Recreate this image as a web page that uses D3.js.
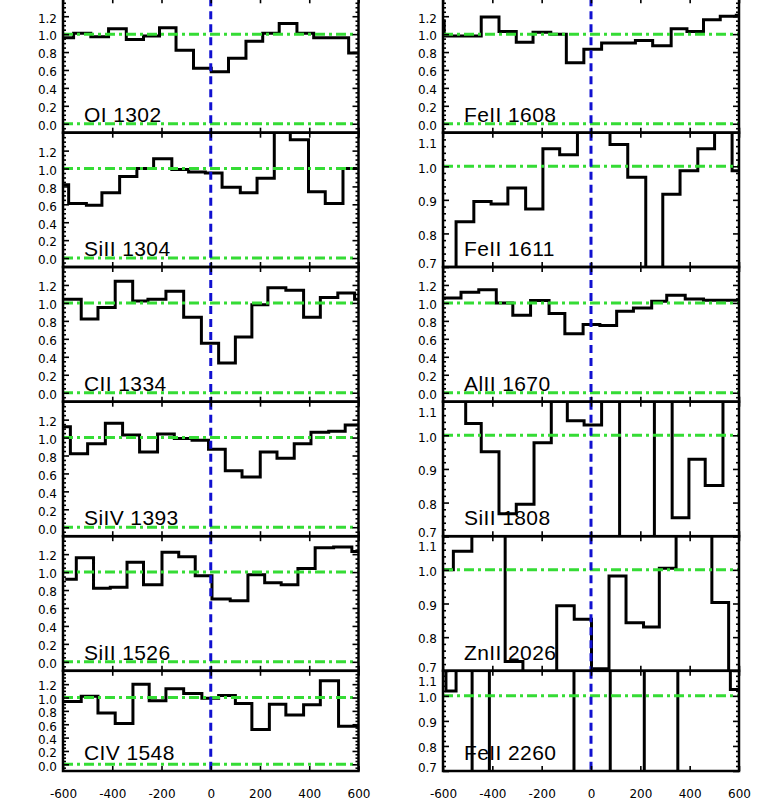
<!DOCTYPE html>
<html><head><meta charset="utf-8">
<script src="https://cdn.jsdelivr.net/npm/d3@7/dist/d3.min.js"></script>
<style>html,body{margin:0;padding:0;background:#fff}svg{display:block}</style>
</head><body>
<svg id="c" width="761" height="807"></svg>
<script>
// ---------------- data (velocity bin left edges in km/s, normalised flux) ----------------
const velTicks = [-600, -400, -200, 0, 200, 400, 600];
const fullRange = [-0.1, 1.4];
const zoomRange = [0.7, 1.1];
const fullTicks = [0.0, 0.2, 0.4, 0.6, 0.8, 1.0, 1.2];
const zoomTicks = [0.7, 0.8, 0.9, 1.0, 1.1];
const fullMinor = [-0.05, 0.05, 0.1, 0.15, 0.25, 0.3, 0.35, 0.45, 0.5, 0.55, 0.65, 0.7, 0.75, 0.85, 0.9, 0.95, 1.05, 1.1, 1.15, 1.25, 1.3, 1.35];
const zoomMinor = [0.72, 0.74, 0.76, 0.78, 0.82, 0.84, 0.86, 0.88, 0.92, 0.94, 0.96, 0.98, 1.02, 1.04, 1.06, 1.08];
const refLevels = [0.0, 1.0];

const OI1302_v = [-650, -557, -487, -415, -343, -273, -208, -141, -70, 2, 72, 143, 211, 278, 350, 418, 489, 560];
const OI1302_f = [0.96, 1.01, 0.97, 1.06, 0.94, 0.98, 1.07, 0.82, 0.62, 0.58, 0.73, 0.92, 1.01, 1.12, 1.01, 0.96, 0.96, 0.79];

const SiII1304_v = [-650, -577, -505, -442, -370, -300, -232, -158, -90, -22, 46, 120, 188, 258, 323, 397, 465, 537];
const SiII1304_f = [0.82, 0.61, 0.59, 0.73, 0.91, 1.00, 1.11, 0.99, 0.96, 0.95, 0.79, 0.73, 0.89, 1.55, 1.32, 0.74, 0.61, 1.00];

const CII1334_v = [-650, -526, -458, -388, -317, -255, -182, -110, -38, 32, 100, 167, 232, 305, 377, 445, 516, 584];
const CII1334_f = [1.04, 0.82, 0.95, 1.24, 1.02, 1.04, 1.13, 0.84, 0.55, 0.33, 0.62, 0.98, 1.17, 1.14, 0.84, 1.06, 1.11, 1.04];

const SiIV1393_v = [-650, -570, -500, -428, -358, -289, -216, -148, -76, -9, 59, 127, 201, 269, 339, 407, 479, 546];
const SiIV1393_f = [1.12, 0.82, 0.93, 1.16, 1.03, 0.84, 1.04, 0.99, 0.97, 0.87, 0.63, 0.56, 0.84, 0.77, 0.93, 1.06, 1.07, 1.14];

const SiII1526_v = [-585, -546, -476, -408, -340, -273, -198, -130, -63, 5, 79, 151, 219, 286, 354, 424, 499, 573];
const SiII1526_f = [0.92, 1.16, 0.82, 0.83, 1.11, 0.86, 1.22, 1.17, 0.96, 0.70, 0.68, 0.97, 0.88, 0.86, 1.04, 1.27, 1.28, 1.23];

const CIV1548_v = [-650, -526, -458, -388, -316, -250, -182, -110, -36, 32, 100, 167, 238, 305, 377, 445, 519];
const CIV1548_f = [0.94, 1.02, 0.77, 0.61, 1.20, 0.95, 1.13, 1.06, 0.99, 1.03, 0.91, 0.52, 0.90, 0.74, 0.89, 1.25, 0.57];

const FeII1608_v = [-650, -595, -519, -445, -373, -303, -235, -163, -100, -29, 43, 112, 180, 250, 325, 389, 456, 524, 589];
const FeII1608_f = [1.15, 0.98, 0.98, 1.19, 1.03, 0.91, 1.02, 1.00, 0.68, 0.83, 0.90, 0.90, 0.93, 0.87, 1.06, 1.03, 1.16, 1.20, 1.21];

const FeII1611_v = [-650, -547, -475, -405, -337, -265, -195, -127, -55, 10, 77, 149, 222, 291, 361, 433, 501, 572];
const FeII1611_f = [0.60, 0.835, 0.895, 0.888, 0.935, 0.873, 1.052, 1.034, 1.20, 1.20, 1.065, 0.967, 0.55, 0.917, 0.987, 1.052, 1.20, 0.987];

const AlII1670_v = [-650, -527, -455, -384, -317, -245, -170, -106, -32, 36, 104, 172, 246, 307, 382, 456, 524];
const AlII1670_f = [1.056, 1.12, 1.148, 1.0, 0.863, 1.026, 0.881, 0.656, 0.76, 0.748, 0.907, 0.944, 1.018, 1.085, 1.044, 1.03, 1.03];

const SiII1808_v = [-650, -508, -445, -373, -303, -231, -161, -96, -28, 43, 116, 186, 257, 329, 397, 463, 535];
const SiII1808_f = [1.20, 1.035, 0.951, 0.767, 0.795, 0.978, 1.20, 1.043, 1.031, 1.20, 0.60, 0.60, 1.20, 0.755, 0.929, 0.851, 1.20];

const ZnII2026_v = [-650, -558, -483, -415, -348, -276, -208, -139, -68, 2, 73, 142, 213, 277, 345, 417, 490, 558];
const ZnII2026_f = [1.0, 1.055, 1.20, 1.20, 0.728, 0.60, 0.60, 0.893, 0.853, 0.706, 0.982, 0.843, 0.83, 1.005, 1.20, 1.20, 0.903, 0.60];

const FeII2260_v = [-650, -588, -547, -482, -412, -342, -272, -202, -132, -69, 5, 78, 148, 216, 284, 352, 422, 492, 565];
const FeII2260_f = [1.20, 1.019, 1.20, 0.60, 1.20, 1.25, 1.20, 1.30, 1.20, 0.60, 0.55, 1.20, 1.25, 0.60, 0.55, 1.20, 1.30, 1.20, 1.025];

const panels = [
  {name: "OI 1302",   col: 0, row: 0, v: OI1302_v,   f: OI1302_f,   dom: fullRange},
  {name: "SiII 1304", col: 0, row: 1, v: SiII1304_v, f: SiII1304_f, dom: fullRange},
  {name: "CII 1334",  col: 0, row: 2, v: CII1334_v,  f: CII1334_f,  dom: fullRange},
  {name: "SiIV 1393", col: 0, row: 3, v: SiIV1393_v, f: SiIV1393_f, dom: fullRange},
  {name: "SiII 1526", col: 0, row: 4, v: SiII1526_v, f: SiII1526_f, dom: fullRange},
  {name: "CIV 1548",  col: 0, row: 5, v: CIV1548_v,  f: CIV1548_f,  dom: fullRange},
  {name: "FeII 1608", col: 1, row: 0, v: FeII1608_v, f: FeII1608_f, dom: fullRange},
  {name: "FeII 1611", col: 1, row: 1, v: FeII1611_v, f: FeII1611_f, dom: zoomRange},
  {name: "AlII 1670", col: 1, row: 2, v: AlII1670_v, f: AlII1670_f, dom: fullRange},
  {name: "SiII 1808", col: 1, row: 3, v: SiII1808_v, f: SiII1808_f, dom: zoomRange},
  {name: "ZnII 2026", col: 1, row: 4, v: ZnII2026_v, f: ZnII2026_f, dom: zoomRange},
  {name: "FeII 2260", col: 1, row: 5, v: FeII2260_v, f: FeII2260_f, dom: zoomRange}
];

// ---------------- layout ----------------
const colX = [[63, 358.5], [443, 739]];
const rowY = [-1.7, 132.7, 267, 401.7, 536.2, 670.8, 771];
const GREEN = "#35dc35", BLUE = "#1010d0";
const svg = d3.select("#c");
const defs = svg.append("defs");
const hyphenFmt = d => String(d);

panels.forEach((p, i) => {
  const [x0, x1] = colX[p.col];
  const y0 = rowY[p.row], y1 = rowY[p.row + 1];
  const x = d3.scaleLinear().domain([-600, 600]).range([x0, x1]);
  const y = d3.scaleLinear().domain(p.dom).range([y1, y0]);
  const g = svg.append("g");

  defs.append("clipPath").attr("id", "clip" + i)
    .append("rect").attr("x", x0).attr("y", y0).attr("width", x1 - x0).attr("height", y1 - y0);
  const inner = g.append("g").attr("clip-path", `url(#clip${i})`);

  // spectrum (histogram step)
  const pts = p.v.map((v, k) => [v, p.f[k]]);
  pts.push([700, p.f[p.f.length - 1]]);
  inner.append("path")
    .attr("d", d3.line().x(d => x(d[0])).y(d => y(d[1])).curve(d3.curveStepAfter)(pts))
    .attr("fill", "none").attr("stroke", "#000").attr("stroke-width", 3)
    .attr("stroke-linejoin", "miter").attr("stroke-linecap", "square");

  // reference levels
  refLevels.filter(l => l >= p.dom[0] && l <= p.dom[1]).forEach(l => {
    inner.append("line").attr("x1", x0).attr("x2", x1).attr("y1", y(l)).attr("y2", y(l))
      .attr("stroke", GREEN).attr("stroke-width", 3).attr("stroke-dasharray", "10,4,3,4");
  });
  // zero velocity
  inner.append("line").attr("x1", x(0)).attr("x2", x(0)).attr("y1", y0).attr("y2", y1)
    .attr("stroke", BLUE).attr("stroke-width", 3).attr("stroke-dasharray", "8,5");

  // axes (inward ticks)
  const full = p.dom === fullRange;
  const yt = full ? fullTicks : zoomTicks;
  const ym = full ? fullMinor : zoomMinor;
  const axL = g.append("g").attr("transform", `translate(${x0},0)`)
    .call(d3.axisLeft(y).tickValues(yt).tickSize(-6).tickPadding(6).tickFormat(d3.format(".1f")));
  const axR = g.append("g").attr("transform", `translate(${x1},0)`)
    .call(d3.axisRight(y).tickValues(yt).tickSize(-6).tickFormat(""));
  const axLm = g.append("g").attr("transform", `translate(${x0},0)`)
    .call(d3.axisLeft(y).tickValues(ym).tickSize(-3).tickFormat(""));
  const axRm = g.append("g").attr("transform", `translate(${x1},0)`)
    .call(d3.axisRight(y).tickValues(ym).tickSize(-3).tickFormat(""));
  const axB = g.append("g").attr("transform", `translate(0,${y1})`)
    .call(d3.axisBottom(x).tickValues(velTicks).tickSize(-5).tickPadding(18)
      .tickFormat(p.row === 5 ? hyphenFmt : ""));
  const axT = g.append("g").attr("transform", `translate(0,${y0})`)
    .call(d3.axisTop(x).tickValues(velTicks).tickSize(-5).tickFormat(""));
  [axL, axR, axLm, axRm, axB, axT].forEach(a => {
    a.select(".domain").remove();
    a.selectAll(".tick line").attr("stroke", "#000").attr("stroke-width", 1.6);
    a.selectAll("text").attr("fill", "#000")
      .style("font-family", "'DejaVu Sans', sans-serif").style("font-size", "12px");
  });
  // keep tick labels inside the panel's vertical extent
  axL.selectAll(".tick text")
    .attr("y", d => {
      const c = Math.max(y0 + 10, Math.min(y1 - 4, y(d) + 1.5));
      return c - y(d);
    })
    .attr("dy", "0.36em");

  // frame
  g.append("rect").attr("x", x0).attr("y", y0).attr("width", x1 - x0).attr("height", y1 - y0)
    .attr("fill", "none").attr("stroke", "#000").attr("stroke-width", 2.5);

  // label
  g.append("text").attr("x", x0 + 21).attr("y", y1 - 11).text(p.name)
    .style("font-family", "'Liberation Sans', Arial, sans-serif").style("font-size", "21px")
    .style("letter-spacing", "0.4px").attr("fill", "#000");
});
</script>
</body></html>
